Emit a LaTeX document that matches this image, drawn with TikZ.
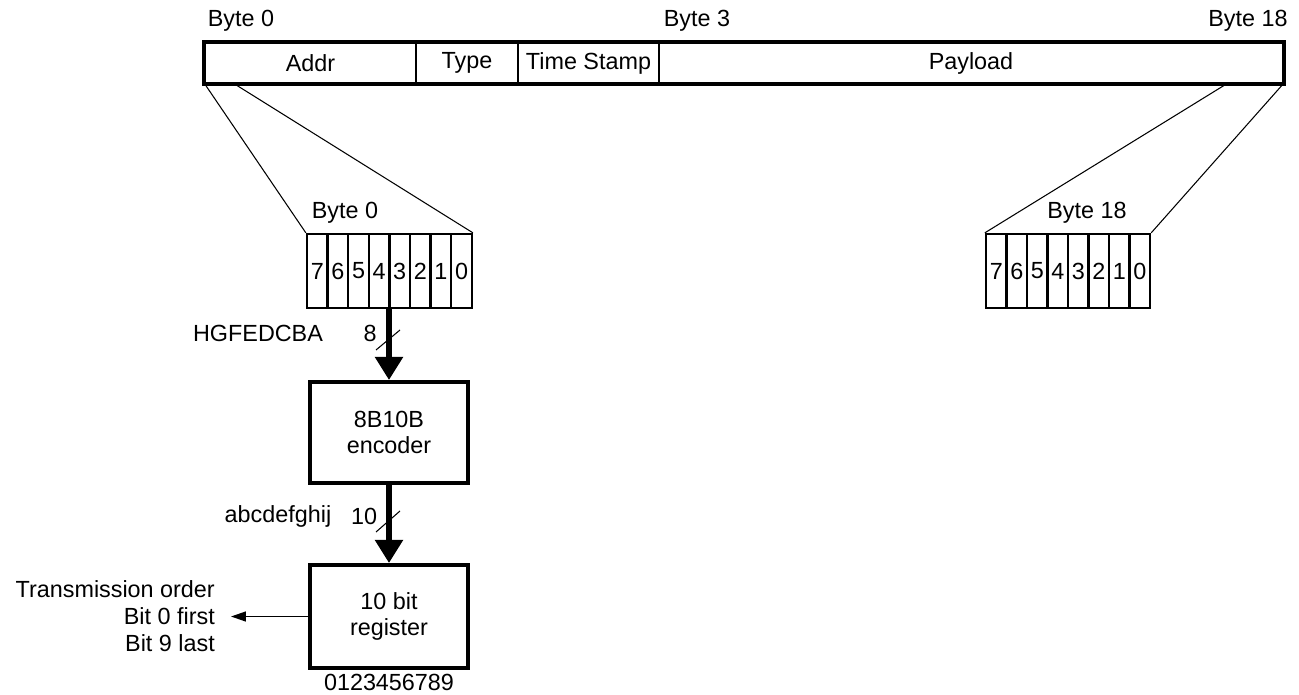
\documentclass[tikz,border=0pt]{standalone}
\usepackage{fontspec}
\setmainfont{Liberation Sans}
\usetikzlibrary{calc,positioning,arrows.meta}

\begin{document}
\begin{tikzpicture}[x=0.02cm, y=-0.02cm, >={Triangle[width=0.2cm,length=0.3cm]},
	font=\fontsize{13.3}{15.3}\selectfont,
	field/.style={draw, line width=0.6pt, minimum height=40*\px, inner sep=0pt},
	bitcell/.style={draw, line width=1.3pt, minimum width=20.6*\px, minimum height=74*\px, inner sep=0pt},
	block/.style={draw, line width=2.3pt, minimum width=158*\px, align=center},
	bus/.style={line width=3pt, -{Triangle[width=0.54cm,length=0.46cm]}},
	fan/.style={line width=0.6pt}]

	\def\px{0.02cm} % one pixel of the layout

	\useasboundingbox (0,0) rectangle (1299,694);

	% packet fields
	\node[field, minimum width=211*\px] (addr) at (310.5,63) {Addr};
	\node[field, minimum width=102*\px] (type) at (467,63) {Type};
	\node[field, minimum width=141*\px] (stamp) at (588.5,63) {Time Stamp};
	\node[field, minimum width=624*\px] (payload) at (971,63) {Payload};
	\draw[line width=2.3pt] (addr.north west) rectangle (payload.south east);

	\node (byte0) at (241,21) {Byte 0};
	\node (byte3) at (697,21) {Byte 3};
	\node (byte18) at (1248,21) {Byte 18};

	% bits of the first and last byte
	\foreach \b [count=\k from 0] in {7,6,...,0} {
		\node[bitcell] (l\b) at ({307+20.6*(\k+0.5)},271) {\b};
		\node[bitcell] (r\b) at ({986+20.5*(\k+0.5)},271) {\b};
	}
	\node (first) at (345,213) {Byte 0};
	\node (last) at (1087,213) {Byte 18};

	% zoom lines
	\coordinate (addrin) at (233,83);
	\coordinate (payin) at (1228,83);
	\draw[fan] (addr.south west) -- (l7.north west);
	\draw[fan] (addrin) -- (l0.north east);
	\draw[fan] (payin) -- (r7.north west);
	\draw[fan] (payload.south east) -- (r0.north east);

	% encoder and register
	\node[block, minimum height=101*\px] (enc) at (389,432.5) {8B10B\\encoder};
	\node[block, minimum height=103*\px] (reg) at (389,616.5) {10 bit\\register};
	\node[below=-1pt of reg] (bits) {0123456789};

	% buses
	\draw[bus] (enc.north |- l4.south) -- (enc.north);
	\draw[bus] (enc.south) -- (reg.north);
	\draw[fan] ($(enc.north)+(-13,-30)$) -- ++(24,-20);
	\draw[fan] ($(reg.north)+(-13,-31)$) -- ++(24,-21);
	\node (w8) at (370,333) {8};
	\node (hgf) at (258,333) {HGFEDCBA};
	\node (w10) at (364,516) {10};
	\node (abc) at (278,516) {abcdefghij};

	% transmission order
	\node[align=right, anchor=east] (order) at (221,616.5)
	{Transmission order\\Bit 0 first\\Bit 9 last};
	\draw[->, line width=0.8pt] (reg.west) -- ([xshift=0.2cm]order.east);

\end{tikzpicture}
\end{document}
